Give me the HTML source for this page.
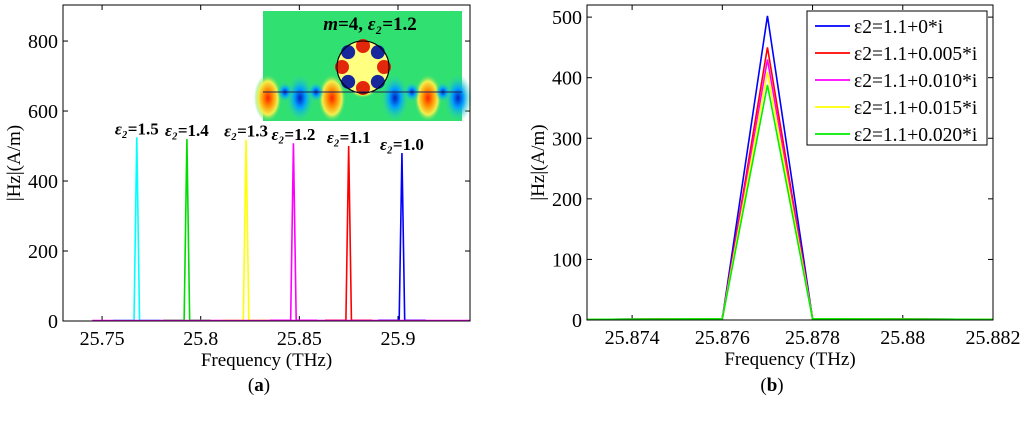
<!DOCTYPE html>
<html><head><meta charset="utf-8"><style>
body{margin:0;background:#fff;width:1024px;height:430px;overflow:hidden}
svg{font-family:"Liberation Serif",serif}
</style></head><body>
<svg id="c" width="1024" height="430">
<defs>
<radialGradient id="rg"><stop offset="0" stop-color="#ff2000"/><stop offset="0.35" stop-color="#ff9000"/><stop offset="0.7" stop-color="#f0f050"/><stop offset="1" stop-color="#30e070" stop-opacity="0"/></radialGradient>
<radialGradient id="bg"><stop offset="0" stop-color="#0020c0"/><stop offset="0.4" stop-color="#00a0ff"/><stop offset="1" stop-color="#30e0a0" stop-opacity="0"/></radialGradient>
</defs>
</svg>
<script>
// Panel (a) data
const catsA=['1.5','1.4','1.3','1.2','1.1','1.0'];
const peakFreqA=[25.7676,25.7930,25.8230,25.8470,25.8750,25.9020];
const peakValA=[525,520,518,508,500,480];
const colorsA=['#00ffff','#00dd00','#ffff00','#ff00ff','#ff0000','#0000ff'];
const xTicksA=[25.75,25.8,25.85,25.9];
const yTicksA=[0,200,400,600,800];
// Panel (b) data
const freqB=[25.873,25.876,25.877,25.878,25.882];
const seriesB=[[1,2,502,2,1],[1,2,450,2,1],[1,2,430,2,1],[1,2,410,2,1],[1,2,388,2,1]];
const labelsB=['ε2=1.1+0*i','ε2=1.1+0.005*i','ε2=1.1+0.010*i','ε2=1.1+0.015*i','ε2=1.1+0.020*i'];
const colorsB=['#0000ff','#ff0000','#ff00ff','#ffff00','#00ee00'];
const xTicksB=[25.874,25.876,25.878,25.88,25.882];
const yTicksB=[0,100,200,300,400,500];

const svg=document.getElementById('c');
const NS='http://www.w3.org/2000/svg';
function mk(t,a,p){const e=document.createElementNS(NS,t);for(const k in a)e.setAttribute(k,a[k]);(p||svg).appendChild(e);return e;}

function axes(L,R,T,B,x0,x1,y0,y1,xt,yt,pre){
  const sx=v=>L+(v-x0)/(x1-x0)*(R-L), sy=v=>B-(v-y0)/(y1-y0)*(B-T);
  const g=mk('g',{});
  
  
  xt.forEach(v=>{const x=sx(v);
    mk('line',{x1:x,x2:x,y1:B,y2:B-5,stroke:'#000'},g);mk('line',{x1:x,x2:x,y1:T,y2:T+5,stroke:'#000'},g);
    const t=mk('text',{x:x,y:B+24,'text-anchor':'middle','font-size':20},g);t.textContent=String(v);
    
    });
  yt.forEach(v=>{const y=sy(v);
    mk('line',{x1:L,x2:L+5,y1:y,y2:y,stroke:'#000'},g);mk('line',{x1:R,x2:R-5,y1:y,y2:y,stroke:'#000'},g);
    const t=mk('text',{x:L-5,y:y+7,'text-anchor':'end','font-size':20},g);t.textContent=String(v);
    
    });
  const xl=mk('text',{x:(L+R)/2,y:B+45,'text-anchor':'middle','font-size':19},g);xl.textContent='Frequency (THz)';
  
  
  const yl=mk('text',{x:0,y:0,'text-anchor':'middle','font-size':19,transform:'translate('+(L-43)+','+((T+B)/2)+') rotate(-90)'},g);yl.textContent='|Hz|(A/m)';
  
  
  return {sx,sy,g};
}

// Panel A
const A={L:63,R:470,T:5,B:321};
const a=axes(A.L,A.R,A.T,A.B,25.7302,25.9365,0,903,xTicksA,yTicksA,'a');
catsA.forEach((c,i)=>{
  const f=peakFreqA[i],w=0.0014;
  const pts=[[f-0.012,2],[f-w,2],[f,peakValA[i]],[f+w,2],[f+0.012,2]];
  const p=mk('polyline',{points:pts.map(q=>a.sx(Math.max(25.745,Math.min(25.94,q[0])))+','+a.sy(q[1])).join(' '),fill:'none',stroke:colorsA[i],'stroke-width':1.6});
  
  
});
mk('line',{x1:a.sx(25.745),x2:A.R,y1:a.sy(2),y2:a.sy(2),stroke:'#ff00ff','stroke-width':1.2});
catsA.forEach((c,i)=>{
  const t=mk('text',{x:a.sx(peakFreqA[i]),y:a.sy(peakValA[i])-3,'text-anchor':'middle','font-size':17,'font-weight':'bold'});
  t.innerHTML='<tspan font-style="italic">ε₂</tspan>='+c;
  
  
});
// inset
const ins=mk('g',{});


mk('rect',{x:263,y:11,width:199,height:110,fill:'#30e070'},ins);
[[268,98],[300,98],[332,98],[395,98],[428,98],[458,98]].forEach((q,i)=>{
  mk('ellipse',{cx:q[0],cy:q[1],rx:14,ry:24,fill:i%2?'url(#bg)':'url(#rg)'},ins);});
[[285,92],[316,92],[412,92],[443,92]].forEach(q=>mk('ellipse',{cx:q[0],cy:q[1],rx:8,ry:10,fill:'url(#bg)'},ins));
mk('ellipse',{cx:363,cy:88,rx:14,ry:10,fill:'url(#rg)'},ins);
mk('circle',{cx:363,cy:67,r:26,fill:'#ffff80',stroke:'#000','stroke-width':1},ins);
for(let k=0;k<8;k++){const an=k*Math.PI/4-Math.PI/2;
  mk('circle',{cx:363+21*Math.cos(an),cy:67+21*Math.sin(an),r:7,fill:k%2?'#0010a0':'#e01000',opacity:0.9},ins);}
mk('circle',{cx:363,cy:67,r:26,fill:'none',stroke:'#000','stroke-width':1},ins);
mk('line',{x1:263,x2:462,y1:92,y2:92,stroke:'#225','stroke-width':1},ins);
const it=mk('text',{x:370,y:30,'text-anchor':'middle','font-size':19,'font-weight':'bold','font-style':'italic'},ins);
it.innerHTML='m<tspan font-style="normal">=4, </tspan>ε₂<tspan font-style="normal">=1.2</tspan>';
mk('rect',{x:A.L,y:A.T,width:A.R-A.L,height:A.B-A.T,fill:'none',stroke:'#000'});

// Panel B
const Bx={L:587,R:993,T:5,B:320};
const b=axes(Bx.L,Bx.R,Bx.T,Bx.B,25.873,25.882,0,520,xTicksB,yTicksB,'b');
seriesB.forEach((s,i)=>{
  const p=mk('polyline',{points:s.map((v,j)=>b.sx(freqB[j])+','+b.sy(v)).join(' '),fill:'none',stroke:colorsB[i],'stroke-width':1.6});
  
  
});
mk('rect',{x:Bx.L,y:Bx.T,width:Bx.R-Bx.L,height:Bx.B-Bx.T,fill:'none',stroke:'#000'});
const lg=mk('g',{});


mk('rect',{x:807,y:11,width:180,height:134,fill:'#fff',stroke:'#000'},lg);
labelsB.forEach((l,i)=>{const y=26+i*27;
  mk('line',{x1:815,x2:850,y1:y,y2:y,stroke:colorsB[i],'stroke-width':1.8},lg);
  const t=mk('text',{x:854,y:y+7,'font-size':19.5},lg);t.textContent=l;
  
  });

const ca=mk('text',{x:259,y:391,'text-anchor':'middle','font-size':19});ca.innerHTML='(<tspan font-weight="bold">a</tspan>)';


const cb=mk('text',{x:772,y:391,'text-anchor':'middle','font-size':19});cb.innerHTML='(<tspan font-weight="bold">b</tspan>)';


</script>
</body></html>
